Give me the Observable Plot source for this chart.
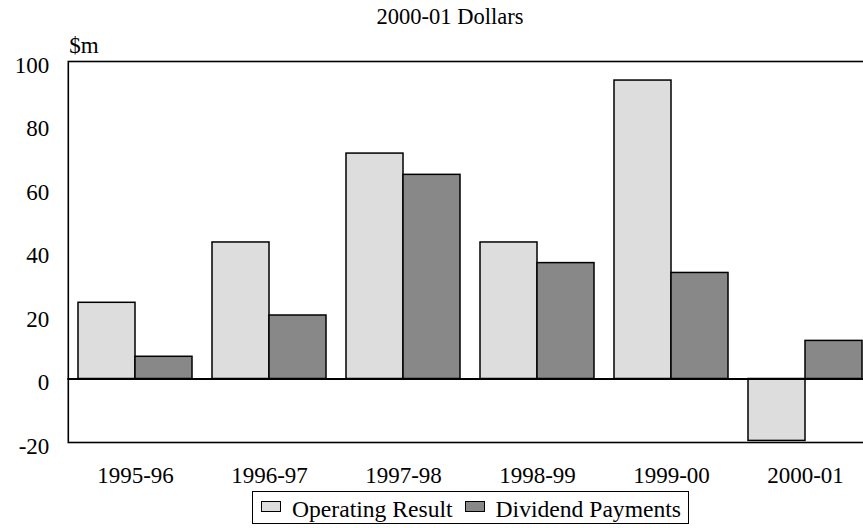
<!DOCTYPE html>
<html>
<head>
<meta charset="utf-8">
<script src="https://cdn.jsdelivr.net/npm/d3@7"></script>
<script src="https://cdn.jsdelivr.net/npm/@observablehq/plot@0.6"></script>
<style>
  html, body { margin: 0; padding: 0; background: #fff; overflow: hidden; }
  #wrap { position: relative; width: 863px; height: 528px; overflow: hidden; font-family: "Liberation Serif", "DejaVu Serif", serif; color: #000; }
  #title { position: absolute; left: 0; top: 6px; width: 900px; text-align: center; font-size: 22.5px; line-height: 22.5px; }
  #chart { position: absolute; left: 0; top: 32px; width: 875px; }
  #chart svg { max-width: none !important; }
  #legend { position: absolute; left: 252px; top: 491px; width: 437px; height: 33px; box-sizing: border-box; border: 1px solid #000; font-size: 23.6px; line-height: 27px; padding: 4px 0 0 8px; white-space: nowrap; }
  .sw { display: inline-block; width: 20px; height: 11px; box-sizing: border-box; border: 1.5px solid #000; vertical-align: 5px; margin-right: 11px; }
</style>
</head>
<body>
<div id="wrap">
  <div id="title"></div>
  <div id="chart"></div>
  <div id="legend"></div>
</div>
<script>
const titleText = "2000-01 Dollars";
const unitLabel = "$m";
const years = ["1995-96", "1996-97", "1997-98", "1998-99", "1999-00", "2000-01"];
const seriesNames = ["Operating Result", "Dividend Payments"];
const operating = [24, 43, 71, 43, 94, -19.5];
const dividends = [7, 20, 64.3, 36.5, 33.4, 12];
const yTicks = [-20, 0, 20, 40, 60, 80, 100];
const seriesColors = ["#dddddd", "#888888"];

const rows = [];
years.forEach((yr, i) => {
  rows.push({year: yr, series: seriesNames[0], value: operating[i]});
  rows.push({year: yr, series: seriesNames[1], value: dividends[i]});
});

document.getElementById("title").textContent = titleText;

const outer = 10.2; // half the gap between year groups, in px
const fs = 23;

const chart = Plot.plot({
  width: 875,
  height: 458,
  marginLeft: 67,
  marginRight: 2,
  marginTop: 29,
  marginBottom: 48,
  facet: {marginTop: 0, marginRight: 0, marginBottom: 0, marginLeft: 0},
  style: {fontFamily: "Liberation Serif", fontSize: fs + "px", color: "#000", background: "#fff", overflow: "visible"},
  fx: {domain: years, paddingInner: 0.152, paddingOuter: 0.076, label: null},
  x: {domain: seriesNames, padding: 0, axis: null},
  y: {domain: [-20, 100], label: null},
  color: {domain: seriesNames, range: seriesColors},
  marks: [
    Plot.barY(rows, {fx: "year", x: "series", y: "value", fill: "series", stroke: "#000", strokeWidth: 1.5}),
    Plot.ruleY([0], {stroke: "#000", strokeWidth: 2, insetLeft: -outer - 0.5, insetRight: -outer - 0.5}),
    Plot.frame({facet: "super", stroke: "#000", strokeWidth: 1.6, insetLeft: -outer, insetRight: -outer}),
    Plot.axisY(yTicks, {tickSize: 0, tickPadding: 19, dx: -outer, dy: 4, label: null, fontSize: fs, tickFormat: d => String(d)}),
    Plot.axisFx({anchor: "bottom", tickSize: 0, tickPadding: 24, label: null, fontSize: fs}),
    Plot.text([unitLabel], {facet: "super", frameAnchor: "top-left", textAnchor: "start", lineAnchor: "middle", dx: 1 - outer, dy: -16, fontSize: fs})
  ]
});
document.getElementById("chart").appendChild(chart);

const legend = document.getElementById("legend");
seriesNames.forEach((name, i) => {
  const sw = document.createElement("span");
  sw.className = "sw";
  sw.style.background = seriesColors[i];
  legend.appendChild(sw);
  const t = document.createElement("span");
  t.textContent = name;
  if (i < seriesNames.length - 1) t.style.marginRight = "12px";
  legend.appendChild(t);
});
</script>
</body>
</html>
